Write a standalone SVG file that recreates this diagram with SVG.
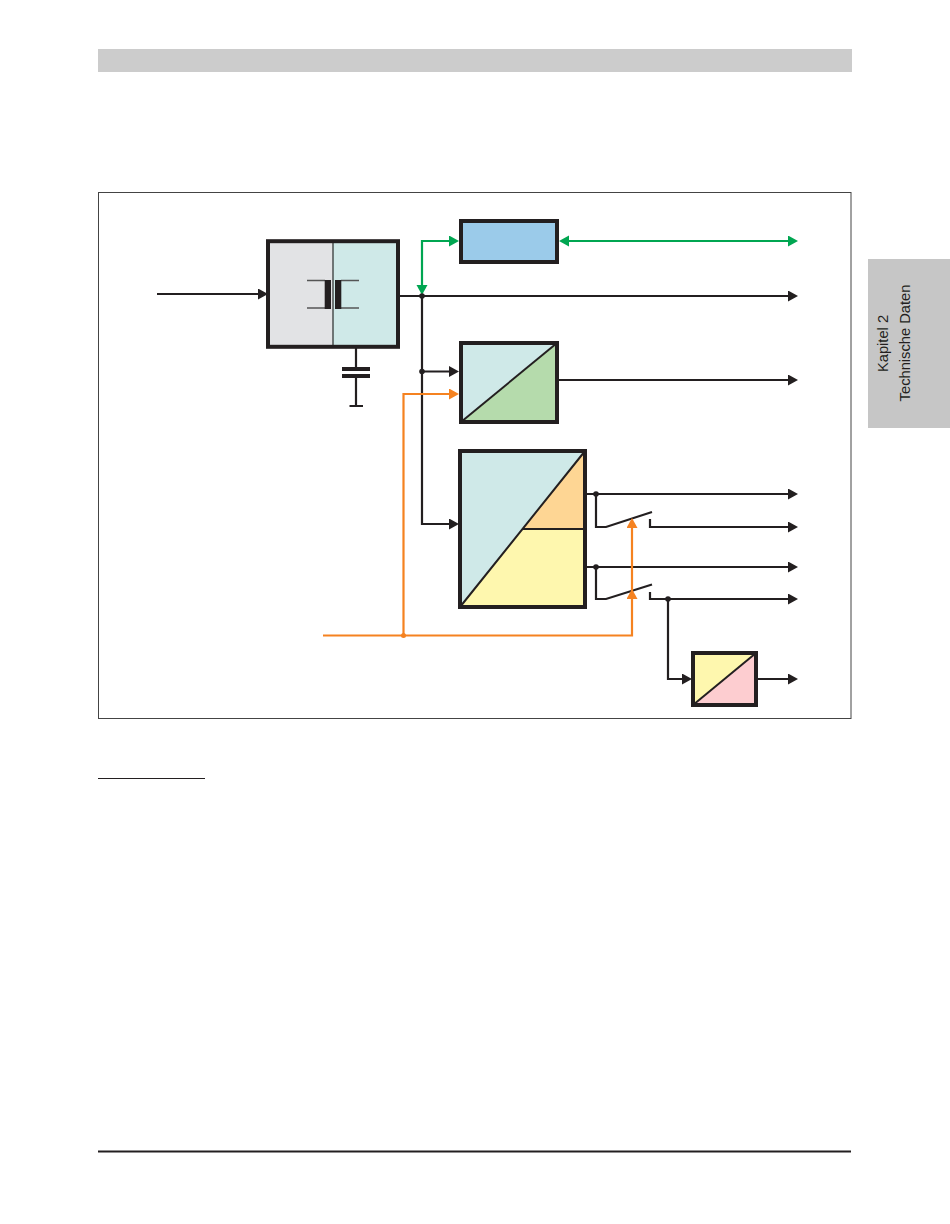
<svg xmlns="http://www.w3.org/2000/svg" width="950" height="1224" viewBox="0 0 950 1224">
<style>
.box{stroke:#231f20;stroke-width:4;fill:none}
.div{stroke:#231f20;stroke-width:2;fill:none}
.w{stroke:#231f20;stroke-width:2.200;fill:none}
.g{stroke:#00a651;stroke-width:2.200;fill:none}
.o{stroke:#f58220;stroke-width:2.200;fill:none}
.tab{font-family:"Liberation Sans",Arial,sans-serif;font-size:14.700px;fill:#231f20;text-anchor:middle}
</style>
<defs>
<marker id="ak" markerUnits="userSpaceOnUse" markerWidth="11" markerHeight="12" refX="6" refY="5.500" orient="auto"><path d="M0 0L10 5.500L0 11Z" fill="#231f20"/></marker>
<marker id="ag" markerUnits="userSpaceOnUse" markerWidth="11" markerHeight="12" refX="6" refY="5.500" orient="auto"><path d="M0 0L10 5.500L0 11Z" fill="#00a651"/></marker>
<marker id="ao" markerUnits="userSpaceOnUse" markerWidth="11" markerHeight="12" refX="6" refY="5.500" orient="auto"><path d="M0 0L10 5.500L0 11Z" fill="#f58220"/></marker>
</defs>
<rect width="950" height="1224" fill="#fff"/>
<g id="page">
<rect x="98" y="49" width="754" height="23" fill="#cccccc"/>
<rect x="868" y="259" width="82" height="169" fill="#c6c6c6"/>
<text class="tab" transform="translate(887.500 343.500) rotate(-90)">Kapitel 2</text>
<text class="tab" transform="translate(910 343) rotate(-90)">Technische Daten</text>
<rect x="98.500" y="192.500" width="752.500" height="526" fill="none" stroke="#444" stroke-width="1"/>
<path d="M98 778.500H205" stroke="#231f20" stroke-width="1"/>
<path d="M98 1151.500H851" stroke="#231f20" stroke-width="2.200"/>
</g>
<g id="connectors">
<path class="w" d="M157 294H264" marker-end="url(#ak)"/>
<path class="w" d="M400 296H794" marker-end="url(#ak)"/>
<path class="w" d="M422 296V524H455" marker-end="url(#ak)"/>
<path class="w" d="M422 371.500H455" marker-end="url(#ak)"/>
<path class="w" d="M558 380H794" marker-end="url(#ak)"/>
<path class="w" d="M586 494H794" marker-end="url(#ak)"/>
<path class="w" d="M586 567H794" marker-end="url(#ak)"/>
<path class="w" d="M596 494V527H606L652 512"/>
<path class="w" d="M596 567V599H606L652 584.500"/>
<path class="w" d="M650 519V527H794" marker-end="url(#ak)"/>
<path class="w" d="M650 592V599H794" marker-end="url(#ak)"/>
<path class="w" d="M668 599V679H688" marker-end="url(#ak)"/>
<path class="w" d="M757 679H794" marker-end="url(#ak)"/>
<path class="w" d="M356 348V367M356 378V406M349.500 406H363"/>
<path d="M342 369H370M342 376H370" stroke="#231f20" stroke-width="4" fill="none"/>
<path class="g" d="M422 291V241H455" marker-end="url(#ag)"/>
<path class="g" d="M422 290V291" marker-end="url(#ag)"/>
<path class="g" d="M563 241H794" marker-end="url(#ag)"/>
<path class="g" d="M564 241H563" marker-end="url(#ag)"/>
<path class="o" d="M323 635.500H632V522" marker-end="url(#ao)"/>
<path class="o" d="M632 594V593" marker-end="url(#ao)"/>
<path class="o" d="M403.500 635.500V394H455" marker-end="url(#ao)"/>
<circle cx="403.500" cy="635.500" r="2.500" fill="#f58220"/>
<circle cx="422" cy="296" r="2.800" fill="#231f20"/>
<circle cx="422" cy="371.500" r="2.800" fill="#231f20"/>
<circle cx="596" cy="494" r="2.800" fill="#231f20"/>
<circle cx="596" cy="567" r="2.800" fill="#231f20"/>
<circle cx="668" cy="599" r="2.800" fill="#231f20"/>
</g>
<g id="node-filter">
<rect x="268" y="241" width="65" height="106" fill="#e2e3e5"/>
<rect x="333" y="241" width="65" height="106" fill="#cfe9e8"/>
<path d="M333 241V347" stroke="#4a4f4f" stroke-width="1.500"/>
<path d="M307 280.500H325M307 308H325M341 280.500H359M341 308H359" stroke="#555" stroke-width="1.500"/>
<rect x="324.700" y="280" width="6.300" height="29" fill="#231f20"/>
<rect x="335" y="280" width="6.300" height="29" fill="#231f20"/>
<rect class="box" x="268" y="241.200" width="130" height="105.600"/>
</g>
<g id="node-blue">
<rect x="461" y="221" width="96" height="41" fill="#9bcbea"/>
<rect class="box" x="461" y="221" width="96" height="41"/>
</g>
<g id="node-converter">
<rect x="461" y="343" width="96" height="79" fill="#cfe9e8"/>
<path d="M461 422L557 343V422Z" fill="#b5dbac"/>
<path class="div" d="M461 422L557 343"/>
<rect class="box" x="461" y="343" width="96" height="79"/>
</g>
<g id="node-regulator">
<rect x="460" y="451" width="125" height="156" fill="#cfe9e8"/>
<path d="M522.700 529L585 451V529Z" fill="#fed694"/>
<path d="M460 607L522.700 529H585V607Z" fill="#fef7ae"/>
<path class="div" d="M460 607L585 451M522.700 529H585"/>
<rect class="box" x="460" y="451" width="125" height="156"/>
</g>
<g id="node-small">
<rect x="693" y="653" width="63" height="52" fill="#fef7ae"/>
<path d="M693 705L756 653V705Z" fill="#fdcdd0"/>
<path class="div" d="M693 705L756 653"/>
<rect class="box" x="693" y="653" width="63" height="52"/>
</g>
</svg>
